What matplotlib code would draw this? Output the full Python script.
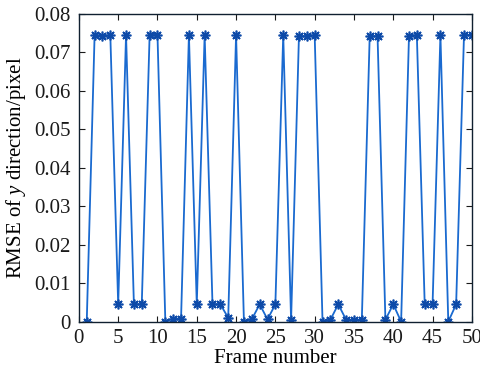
import matplotlib
matplotlib.use("Agg")
import matplotlib.pyplot as plt

frames = list(range(1, 51))
rmse_y = [0, 0.0745, 0.0742, 0.0745, 0.0045, 0.0745, 0.0045, 0.0045, 0.0745, 0.0745,
          0, 0.0008, 0.0008, 0.0745, 0.0045, 0.0745, 0.0045, 0.0045, 0.001, 0.0745,
          0, 0.0006, 0.0045, 0.0006, 0.0045, 0.0745, 0.0004, 0.0742, 0.0742, 0.0745,
          0, 0.0005, 0.0045, 0.0005, 0.0005, 0.0005, 0.0742, 0.0742, 0.0005, 0.0045,
          0, 0.0742, 0.0745, 0.0045, 0.0045, 0.0745, 0, 0.0045, 0.0745, 0.0745]
xticks = [0, 5, 10, 15, 20, 25, 30, 35, 40, 45, 50]
yticks = [0, 0.01, 0.02, 0.03, 0.04, 0.05, 0.06, 0.07, 0.08]
ytick_labels = ["0", "0.01", "0.02", "0.03", "0.04", "0.05", "0.06", "0.07", "0.08"]

plt.rcParams['font.family'] = ['Liberation Serif', 'DejaVu Serif']
plt.rcParams['mathtext.fontset'] = 'custom'
plt.rcParams['mathtext.it'] = 'Liberation Serif:italic'
plt.rcParams['mathtext.rm'] = 'Liberation Serif'

fig = plt.figure(figsize=(4.81, 3.74), dpi=100)
ax = fig.add_axes([0.164, 0.140, 0.817, 0.823])
ax.plot(frames, rmse_y, color='#1a6ad0', linewidth=1.3, marker=(8, 2, 0),
        markersize=7, markeredgewidth=1.2, markeredgecolor='#0d4aa8')
ax.set_xlim(0, 50)
ax.set_ylim(0, 0.08)
ax.set_xticks(xticks)
ax.set_yticks(yticks)
ax.set_yticklabels(ytick_labels)
ax.tick_params(direction='in', top=True, right=True, labelsize=15, length=4,
               colors='#1a1a1a')
ax.tick_params(axis='x', pad=5)
ax.tick_params(axis='y', pad=6)
for s in ax.spines.values():
    s.set_color('#102030')
    s.set_linewidth(1.0)
ax.set_xlabel('Frame number', fontsize=15, labelpad=1)
ax.set_ylabel('RMSE of $y$ direction/pixel', fontsize=15, labelpad=4)
fig.savefig('out.png', dpi=100)
